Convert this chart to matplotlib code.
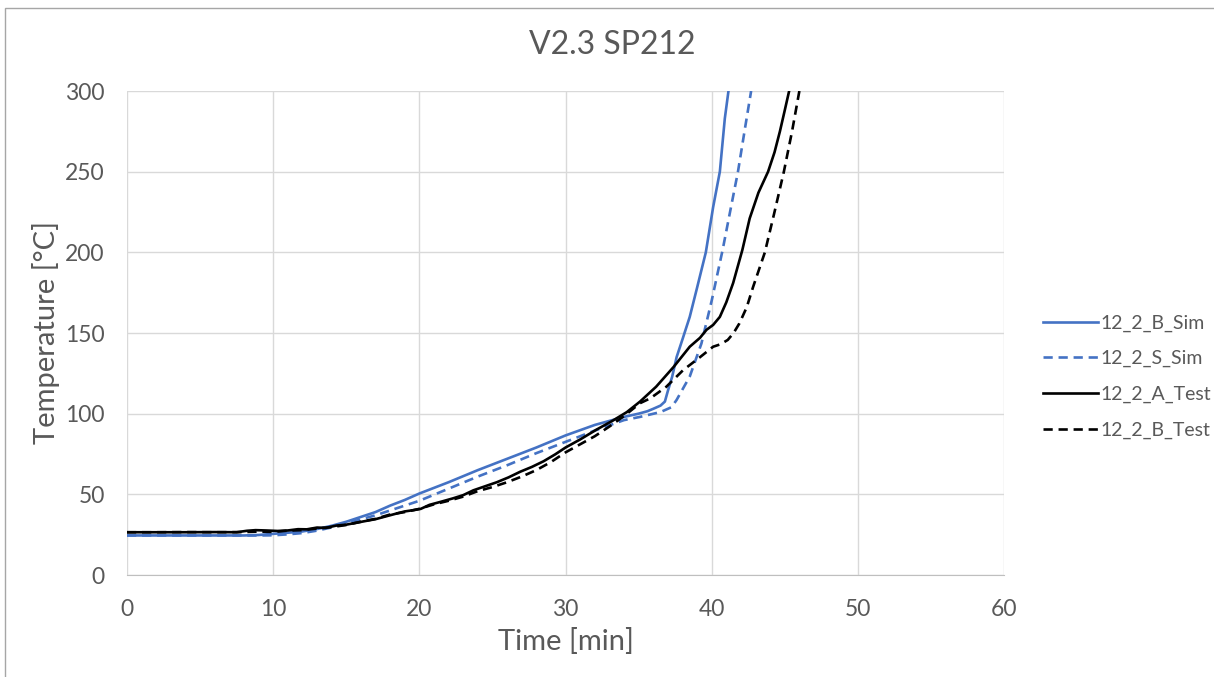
import matplotlib
matplotlib.use("Agg")
import matplotlib.pyplot as plt
from matplotlib.patches import Rectangle

# ── Data ──────────────────────────────────────────────────────────────────────
t_b_sim = [0, 5, 8, 9, 10, 11, 12, 13, 14, 15, 16, 17, 18, 19, 20, 22, 24, 26, 28, 30,
           32, 33, 34, 35, 35.6, 36, 36.5, 36.8, 37.0, 37.3, 37.6, 38.0, 38.5, 39.0,
           39.6, 40.1, 40.56, 40.9, 41.15]
T_b_sim = [24.5, 24.5, 24.5, 24.8, 25.5, 26.2, 27.0, 28.5, 30.5, 33, 36, 39, 43, 46.5,
           50.5, 57.5, 65, 72, 79, 86.5, 93, 95.5, 98, 100, 101.5, 103, 105, 107.5, 114,
           123, 135, 146, 160, 178, 200, 228, 250, 283, 300]

t_s_sim = [0, 5, 9, 10, 11, 12, 13, 14, 15, 16, 17, 18, 19, 20, 22, 24, 26, 28, 30, 32,
           34, 35.1, 36.5, 37.25, 37.6, 38.5, 39.3, 40.0, 40.75, 41.3, 41.8, 42.3, 42.7]
T_s_sim = [24.5, 24.5, 24.5, 24.6, 25.2, 26, 27.5, 29.5, 32, 34.5, 37, 40, 43, 46, 53.5,
           61, 68, 75.5, 82.5, 89.5, 96, 98, 101, 104, 108.5, 123, 143.5, 170, 201.5,
           227, 250, 278, 300]

t_a_test = [0, 2, 4, 6, 7.5, 8.2, 8.8, 9.5, 10.3, 11, 11.7, 12.3, 13, 13.6, 14.3, 15,
            15.7, 16.4, 17, 17.7, 18.4, 19, 19.6, 20.1, 20.7, 21.4, 22.3, 23, 23.7, 24.5,
            25.3, 26.1, 26.9, 27.7, 28.5, 29.3, 30, 31, 32.1, 33.2, 34.2, 35.1, 36.2,
            37.4, 38.5, 39.2, 39.65, 40.1, 40.56, 41.0, 41.47, 42.1, 42.6, 43.2, 43.86,
            44.3, 44.67, 45.0, 45.3]
T_a_test = [26.5, 26.5, 26.5, 26.6, 26.5, 27.4, 27.8, 27.6, 27.3, 27.6, 28.4, 28.3, 29.4,
            29.2, 30.6, 31.2, 32.4, 33.6, 34.6, 36.3, 38.0, 39.4, 40.2, 41.0, 43.5, 45.2,
            47.5, 49.5, 52.5, 55.0, 57.5, 60.5, 64.0, 67.0, 70.5, 74.8, 79.0, 84.0, 90.0,
            95.5, 101.0, 107.5, 116.7, 129.0, 141.5, 147, 152, 155, 160, 169, 181, 201.5,
            221, 237, 250, 262, 275, 288, 300]

t_b_test = [0, 2, 4, 6, 8, 9, 10, 11, 12, 13, 14, 15, 16, 17, 18, 19, 20, 21, 22, 23, 24,
            25, 26, 27, 28, 29, 30, 31, 32, 33, 34, 35.1, 35.8, 36.9, 38.05, 39.2, 40.1,
            40.6, 41.1, 41.5, 41.9, 42.4, 42.84, 43.64, 44.3, 44.94, 45.5, 46.0]
T_b_test = [26.5, 26.5, 26.6, 26.5, 26.6, 26.9, 26.7, 27.5, 27.8, 28.8, 29.7, 31.0, 33.0,
            34.8, 37.5, 39.0, 41.0, 43.8, 46.0, 48.6, 52.0, 54.5, 57.5, 61.0, 65.0, 70.0,
            76.0, 81.0, 86.0, 92.0, 98.5, 106.5, 109.5, 116.7, 127, 135, 141.5, 143, 145.7,
            150, 156, 166, 178.7, 200, 225, 250, 275, 300]

x_ticks = [0, 10, 20, 30, 40, 50, 60]
y_ticks = [0, 50, 100, 150, 200, 250, 300]

BLUE = "#4472C4"; TXT = "#595959"; GRID = "#D9D9D9"

plt.rcParams["font.family"] = ["Lato", "DejaVu Sans"]

fig = plt.figure(figsize=(12.14, 6.77), dpi=100, facecolor="white")
ax = fig.add_axes([127 / 1214, 1 - 575 / 677, (1004 - 127) / 1214, (575 - 91) / 677])

# chart frame (extends past the right/bottom edge, as in the screenshot)
fig.patches.append(Rectangle((5 / 1214, -0.05), 1.1, 1 - 8 / 677 + 0.05,
                             transform=fig.transFigure, fill=False,
                             edgecolor="#A6A6A6", lw=1.0))

lw = 1.9
ax.plot(t_b_sim, T_b_sim, color=BLUE, lw=lw, label="12_2_B_Sim")
ax.plot(t_s_sim, T_s_sim, color=BLUE, lw=lw, ls=(0, (3.5, 2.2)), label="12_2_S_Sim")
ax.plot(t_a_test, T_a_test, color="black", lw=lw, label="12_2_A_Test")
ax.plot(t_b_test, T_b_test, color="black", lw=lw, ls=(0, (3.5, 2.2)), label="12_2_B_Test")

ax.set_xlim(0, 60)
ax.set_ylim(0, 300)
ax.set_xticks(x_ticks)
ax.set_yticks(y_ticks)
ax.grid(True, color=GRID, lw=1.0)
ax.set_axisbelow(True)
for sp in ["top", "right", "left"]:
    ax.spines[sp].set_visible(False)
ax.spines["bottom"].set_color("#BFBFBF")
ax.tick_params(length=0, labelsize=16.5, labelcolor=TXT)
ax.tick_params(axis="y", pad=16)
ax.tick_params(axis="x", pad=17)

ax.set_xlabel("Time [min]", fontsize=21, color=TXT, labelpad=6)
ax.set_ylabel("Temperature [°C]", fontsize=21, color=TXT, labelpad=4)
fig.text(612 / 1214, 1 - 45 / 677, "V2.3 SP212", fontsize=23, color=TXT,
         ha="center", va="center")

leg = ax.legend(loc="center left", bbox_to_anchor=(1.025, 0.41), frameon=False,
                fontsize=14, labelcolor=TXT, handlelength=2.8, handletextpad=0.15,
                labelspacing=0.95)

fig.savefig("out.png", dpi=100, facecolor="white")
